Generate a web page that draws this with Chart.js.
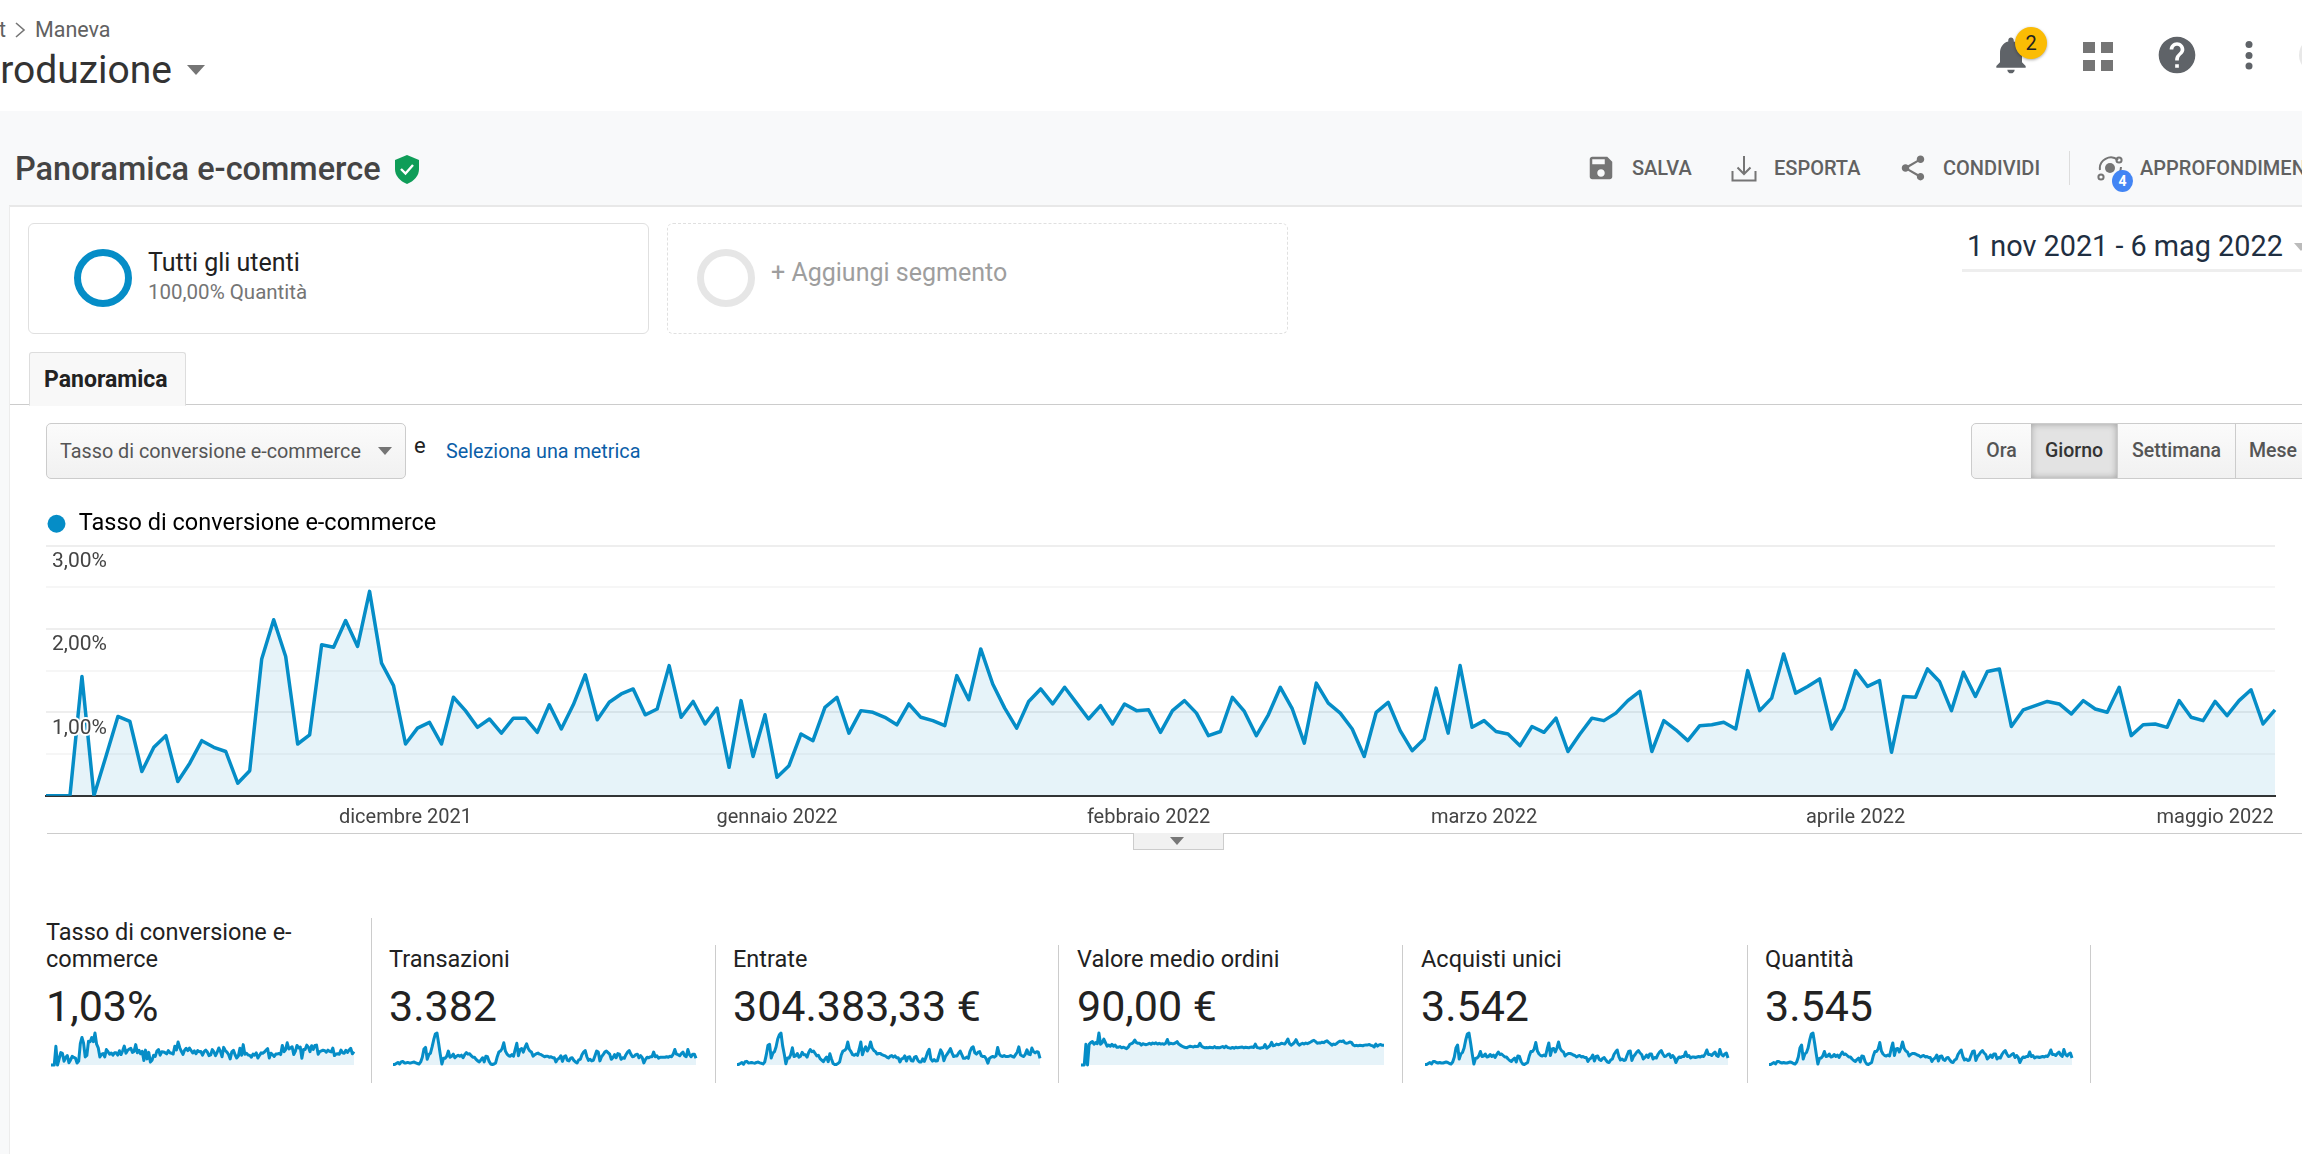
<!DOCTYPE html>
<html lang="it">
<head>
<meta charset="utf-8">
<title>Panoramica e-commerce</title>
<script src="https://cdn.jsdelivr.net/npm/chart.js@4"></script>
<style>
  html, body { margin: 0; padding: 0; background: #fff; }
  body { position: relative; width: 2302px; height: 1154px; overflow: hidden; font-family: Roboto, sans-serif; }
  .abs { position: absolute; white-space: nowrap; }
  canvas { position: absolute; display: block; }
  .tool { font-size: 20px; font-weight: 500; color: #616161; line-height: 24px; top: 156px; }
  .metric-name { font-size: 23.5px; color: #212121; line-height: 27px; }
  .metric-value { font-size: 43px; color: #222; line-height: 48px; top: 982px; }
  .sep { position: absolute; width: 1px; background: #ccc; top: 945px; height: 138px; }
  .tri { position: absolute; width: 0; height: 0; border-left: 7px solid transparent; border-right: 7px solid transparent; border-top: 8px solid #757575; }
  .btn { position: absolute; top: 423px; height: 54px; line-height: 54px; text-align: center; font-size: 19.5px; font-weight: 500; color: #555; background: linear-gradient(#fbfbfb, #f1f1f1); border: 1px solid #ccc; border-left: 0; box-sizing: content-box; }
</style>
</head>
<body>

<!-- header -->
<div class="abs" style="left:-1px;top:18px;font-size:21.5px;color:#616161;line-height:24px">t</div>
<svg class="abs" style="left:14px;top:21px" width="12" height="18" viewBox="0 0 12 18"><path d="M2 2l8 7-8 7" fill="none" stroke="#757575" stroke-width="1.6"/></svg>
<div class="abs" style="left:35px;top:18px;font-size:21.5px;color:#616161;line-height:24px">Maneva</div>
<div class="abs" style="right:2130px;top:48px;font-size:39px;color:#333;line-height:44px">roduzione</div>
<div class="tri" style="left:187px;top:65px;border-left-width:9px;border-right-width:9px;border-top-width:10px"></div>

<svg class="abs" style="left:1989px;top:33px" width="44" height="44" viewBox="0 0 24 24"><path fill="#5f6368" d="M12 22c1.1 0 2-.9 2-2h-4c0 1.1.89 2 2 2zm6-6v-5c0-3.07-1.64-5.64-4.5-6.32V4c0-.83-.67-1.5-1.5-1.5s-1.5.67-1.5 1.5v.68C7.63 5.36 6 7.92 6 11v5l-2 2v1h16v-1l-2-2z"/></svg>
<div class="abs" style="left:2015px;top:27px;width:32px;height:32px;border-radius:50%;background:#fbbc04;box-shadow:0 1px 3px rgba(0,0,0,.35);text-align:center;line-height:32px;font-size:20px;color:#222">2</div>
<svg class="abs" style="left:2083px;top:42px" width="30" height="29"><path fill="#757575" d="M0 0h12v11H0zM18 0h12v11H18zM0 18h12v11H0zM18 18h12v11H18z"/></svg>
<svg class="abs" style="left:2155px;top:33px" width="44" height="44" viewBox="0 0 24 24"><path fill="#5f6368" d="M12 2C6.48 2 2 6.48 2 12s4.48 10 10 10 10-4.48 10-10S17.52 2 12 2zm1 17h-2v-2h2v2zm2.07-7.75l-.9.92C13.45 12.9 13 13.5 13 15h-2v-.5c0-1.1.45-2.1 1.17-2.83l1.24-1.26c.37-.36.59-.86.59-1.41 0-1.1-.9-2-2-2s-2 .9-2 2H8c0-2.21 1.79-4 4-4s4 1.79 4 4c0 .88-.36 1.68-.93 2.25z"/></svg>
<svg class="abs" style="left:2244px;top:40px" width="10" height="30"><circle cx="5" cy="4.5" r="3.5" fill="#5f6368"/><circle cx="5" cy="15.5" r="3.5" fill="#5f6368"/><circle cx="5" cy="26" r="3.5" fill="#5f6368"/></svg>
<div class="abs" style="left:2299px;top:37px;width:36px;height:36px;border-radius:50%;background:#e8e8e8"></div>

<!-- toolbar -->
<div class="abs" style="left:0;top:111px;width:2302px;height:94px;background:#f8f9fa;border-bottom:2px solid #e8e8e8"></div>
<div class="abs" style="left:0;top:111px;width:9px;height:1043px;background:#f8f9fa"></div>
<div class="abs" style="left:9px;top:206px;width:1px;height:948px;background:#ececec"></div>
<div class="abs" style="left:15px;top:149px;font-size:32.5px;font-weight:500;color:#444;line-height:40px">Panoramica e-commerce</div>
<svg class="abs" style="left:394px;top:155px" width="26" height="29" viewBox="0 0 26 29"><path fill="#0f9d58" d="M13 0l12 5v9c0 7-5 12-12 15C6 26 1 21 1 14V5z"/><path d="M7 14l4.5 4.5L19 10" fill="none" stroke="#fff" stroke-width="2.4"/></svg>

<svg class="abs" style="left:1586px;top:153px" width="30" height="30" viewBox="0 0 24 24"><path fill="#757575" d="M17 3H5c-1.11 0-2 .9-2 2v14c0 1.1.89 2 2 2h14c1.1 0 2-.9 2-2V7l-4-4zm-5 16c-1.66 0-3-1.34-3-3s1.34-3 3-3 3 1.34 3 3-1.34 3-3 3zm3-10H5V5h10v4z"/></svg>
<div class="abs tool" style="left:1632px">SALVA</div>
<svg class="abs" style="left:1731px;top:156px" width="26" height="26"><path d="M1.5 15v9.5h23V15M13 0v18M6.5 11.5L13 18l6.5-6.5" fill="none" stroke="#757575" stroke-width="2"/></svg>
<div class="abs tool" style="left:1774px">ESPORTA</div>
<svg class="abs" style="left:1898px;top:153px" width="30" height="30" viewBox="0 0 24 24"><path fill="#757575" d="M18 16.08c-.76 0-1.44.3-1.96.77L8.91 12.7c.05-.23.09-.46.09-.7s-.04-.47-.09-.7l7.05-4.11c.54.5 1.25.81 2.04.81 1.66 0 3-1.34 3-3s-1.34-3-3-3-3 1.34-3 3c0 .24.04.47.09.7L8.04 9.81C7.5 9.31 6.79 9 6 9c-1.66 0-3 1.34-3 3s1.34 3 3 3c.79 0 1.5-.31 2.04-.81l7.12 4.16c-.05.21-.08.43-.08.65 0 1.61 1.31 2.92 2.92 2.92s2.92-1.31 2.92-2.92-1.31-2.92-2.92-2.92z"/></svg>
<div class="abs tool" style="left:1943px">CONDIVIDI</div>
<div class="abs" style="left:2069px;top:151px;width:1px;height:34px;background:#ddd"></div>
<svg class="abs" style="left:2096px;top:155px" width="30" height="28"><circle cx="14" cy="13" r="5" fill="#757575"/><path d="M4 15a11 11 0 0 1 18-10M25 12a11 11 0 0 1-7 10" fill="none" stroke="#757575" stroke-width="2"/><circle cx="23" cy="5" r="2.6" fill="none" stroke="#757575" stroke-width="2"/><circle cx="5" cy="22" r="2.6" fill="none" stroke="#757575" stroke-width="2"/></svg>
<div class="abs" style="left:2112px;top:170px;width:21px;height:22px;border-radius:50%;background:#4285f4;color:#fff;font-size:14px;font-weight:700;text-align:center;line-height:22px">4</div>
<div class="abs tool" style="left:2140px">APPROFONDIMENTI</div>

<!-- segments -->
<div class="abs" style="left:28px;top:223px;width:619px;height:109px;border:1px solid #e0e0e0;border-radius:6px"></div>
<div class="abs" style="left:74px;top:249px;width:44px;height:44px;border:7px solid #058dc7;border-radius:50%"></div>
<div class="abs" style="left:148px;top:250px;font-size:25px;color:#212121;line-height:26px">Tutti gli utenti</div>
<div class="abs" style="left:148px;top:281px;font-size:20.5px;color:#757575;line-height:22px">100,00% Quantità</div>
<div class="abs" style="left:667px;top:223px;width:619px;height:109px;border:1px dashed #e0e0e0;border-radius:6px"></div>
<div class="abs" style="left:697px;top:249px;width:44px;height:44px;border:7px solid #e6e6e6;border-radius:50%"></div>
<div class="abs" style="left:771px;top:259px;font-size:25px;color:#9e9e9e;line-height:28px">+ Aggiungi segmento</div>
<div class="abs" style="left:1967px;top:228px;font-size:28.8px;color:#1f2f42;line-height:36px">1 nov 2021 - 6 mag 2022</div>
<div class="tri" style="left:2294px;top:243px;border-top-color:#bbb"></div>
<div class="abs" style="left:1962px;top:269px;width:340px;height:3px;background:#eee"></div>

<!-- tab row -->
<div class="abs" style="left:10px;top:404px;width:2292px;height:1px;background:#ccc"></div>
<div class="abs" style="left:29px;top:352px;width:155px;height:52px;background:#f8f8f8;border:1px solid #ddd;border-bottom:1px solid #f8f8f8;border-radius:3px 3px 0 0"></div>
<div class="abs" style="left:44px;top:367px;font-size:23px;font-weight:700;color:#222;line-height:26px">Panoramica</div>

<!-- controls -->
<div class="abs" style="left:46px;top:423px;width:358px;height:54px;background:linear-gradient(#fbfbfb,#f1f1f1);border:1px solid #ccc;border-radius:5px"></div>
<div class="abs" style="left:60px;top:440px;font-size:19.8px;color:#555;line-height:24px">Tasso di conversione e-commerce</div>
<div class="tri" style="left:378px;top:447px"></div>
<div class="abs" style="left:414px;top:433px;font-size:22px;color:#222;line-height:26px">e</div>
<div class="abs" style="left:446px;top:440px;font-size:19.8px;color:#0b5ea8;line-height:24px">Seleziona una metrica</div>
<div class="btn" style="left:1971px;width:59px;border-left:1px solid #ccc;border-radius:5px 0 0 5px">Ora</div>
<div class="btn" style="left:2031px;width:86px;background:#e3e3e3;box-shadow:inset 0 0 7px rgba(0,0,0,.3);color:#333">Giorno</div>
<div class="btn" style="left:2118px;width:117px">Settimana</div>
<div class="btn" style="left:2236px;width:74px">Mese</div>

<!-- main chart -->
<canvas id="main-chart" width="2302" height="340" style="left:0;top:510px"></canvas>
<div class="abs" style="left:47px;top:833px;width:2255px;height:1px;background:#ccc"></div>
<div class="abs" style="left:1133px;top:833px;width:89px;height:16px;background:#f1f1f1;border:1px solid #ccc;border-top:0"></div>
<div class="tri" style="left:1170px;top:837px;border-top-color:#777"></div>

<!-- metrics -->
<div class="sep" style="left:371px;top:918px;height:165px"></div>
<div class="sep" style="left:715px"></div>
<div class="sep" style="left:1058px"></div>
<div class="sep" style="left:1402px"></div>
<div class="sep" style="left:1747px"></div>
<div class="sep" style="left:2090px"></div>

<div class="abs metric-name" style="left:46px;top:919px">Tasso di conversione e-<br>commerce</div>
<div class="abs metric-name" style="left:389px;top:946px">Transazioni</div>
<div class="abs metric-name" style="left:733px;top:946px">Entrate</div>
<div class="abs metric-name" style="left:1077px;top:946px">Valore medio ordini</div>
<div class="abs metric-name" style="left:1421px;top:946px">Acquisti unici</div>
<div class="abs metric-name" style="left:1765px;top:946px">Quantità</div>

<div class="abs metric-value" style="left:46px">1,03%</div>
<div class="abs metric-value" style="left:389px">3.382</div>
<div class="abs metric-value" style="left:733px">304.383,33 €</div>
<div class="abs metric-value" style="left:1077px">90,00 €</div>
<div class="abs metric-value" style="left:1421px">3.542</div>
<div class="abs metric-value" style="left:1765px">3.545</div>

<canvas class="spark" id="spark-conversion" width="311" height="40" style="left:47px;top:1029px"></canvas>
<canvas class="spark" id="spark-transactions" width="311" height="40" style="left:389px;top:1029px"></canvas>
<canvas class="spark" id="spark-revenue" width="311" height="40" style="left:733px;top:1029px"></canvas>
<canvas class="spark" id="spark-order-value" width="311" height="40" style="left:1077px;top:1029px"></canvas>
<canvas class="spark" id="spark-purchases" width="311" height="40" style="left:1421px;top:1029px"></canvas>
<canvas class="spark" id="spark-quantity" width="311" height="40" style="left:1765px;top:1029px"></canvas>

<script>
// Values, one per day from 1 nov 2021 to 6 mag 2022

const seriesName = 'Tasso di conversione e-commerce'

const monthLabels = {
  '2021-12-01': 'dicembre 2021',
  '2022-01-01': 'gennaio 2022',
  '2022-02-01': 'febbraio 2022',
  '2022-03-01': 'marzo 2022',
  '2022-04-01': 'aprile 2022',
  '2022-05-01': 'maggio 2022',
}

const conversionRate = [
  0, 0, 0, 1.43, 0, 0.47, 0.95, 0.89, 0.29, 0.58, 0.72, 0.17, 0.39, 0.66, 0.58, 0.53, 0.15, 0.30, 1.64, 2.11,
  1.67, 0.62, 0.73, 1.81, 1.78, 2.10, 1.79, 2.45, 1.59, 1.32, 0.62, 0.81, 0.88, 0.62, 1.18, 1.02, 0.82, 0.92, 0.75, 0.93,
  0.93, 0.76, 1.09, 0.80, 1.09, 1.45, 0.91, 1.12, 1.22, 1.28, 0.97, 1.04, 1.56, 0.94, 1.13, 0.86, 1.05, 0.34, 1.14, 0.47,
  0.97, 0.22, 0.36, 0.74, 0.66, 1.06, 1.18, 0.75, 1.02, 1.00, 0.94, 0.85, 1.10, 0.94, 0.90, 0.84, 1.44, 1.15, 1.76, 1.34,
  1.05, 0.81, 1.13, 1.28, 1.10, 1.30, 1.11, 0.92, 1.08, 0.86, 1.10, 1.02, 1.03, 0.76, 1.02, 1.14, 0.99, 0.72, 0.77, 1.18,
  1.01, 0.72, 0.97, 1.30, 1.04, 0.63, 1.35, 1.11, 0.99, 0.80, 0.47, 1.00, 1.12, 0.78, 0.54, 0.68, 1.29, 0.75, 1.56, 0.82,
  0.90, 0.77, 0.74, 0.60, 0.83, 0.76, 0.93, 0.53, 0.74, 0.93, 0.90, 0.99, 1.14, 1.25, 0.53, 0.90, 0.79, 0.66, 0.84, 0.85,
  0.88, 0.80, 1.50, 1.02, 1.17, 1.70, 1.23, 1.31, 1.40, 0.80, 1.04, 1.50, 1.31, 1.38, 0.52, 1.19, 1.18, 1.52, 1.37, 1.02,
  1.48, 1.19, 1.49, 1.52, 0.83, 1.03, 1.08, 1.13, 1.10, 0.98, 1.14, 1.04, 1.00, 1.30, 0.72, 0.85, 0.86, 0.82, 1.14, 0.94,
  0.90, 1.13, 0.96, 1.14, 1.27, 0.86, 1.03,
]

const transactions = [
  1, 1, 3, 5, 2, 6, 7, 4, 4, 5, 4, 4, 5, 6, 4, 3, 2, 6, 15, 31,
  34, 11, 20, 23, 35, 49, 60, 62, 42, 21, 2, 13, 13, 17, 27, 15, 17, 21, 14, 17,
  19, 17, 19, 14, 20, 24, 21, 22, 18, 15, 15, 11, 8, 6, 10, 14, 6, 17, 16, 7,
  2, 1, 2, 4, 16, 25, 27, 32, 43, 27, 21, 18, 17, 20, 17, 30, 42, 18, 30, 32,
  25, 34, 41, 32, 27, 25, 17, 20, 22, 23, 21, 20, 18, 16, 17, 17, 15, 16, 14, 14,
  6, 11, 13, 18, 7, 16, 18, 9, 8, 13, 14, 9, 6, 4, 10, 11, 20, 25, 28, 16,
  9, 11, 8, 9, 18, 27, 25, 8, 16, 20, 25, 27, 24, 21, 11, 14, 20, 14, 22, 21,
  11, 14, 13, 20, 25, 28, 21, 16, 17, 20, 21, 14, 18, 14, 4, 11, 15, 14, 16, 16,
  25, 16, 18, 13, 15, 15, 15, 15, 16, 15, 17, 16, 21, 30, 21, 20, 18, 22, 25, 18,
  16, 30, 20, 16, 21, 21, 13,
]

const revenue = [
  100, 100, 250, 420, 120, 540, 600, 350, 360, 420, 350, 300, 430, 480, 350, 280, 180, 480, 1700, 3250,
  3400, 1150, 1950, 2200, 3000, 4300, 5000, 5280, 3200, 1800, 200, 1150, 1150, 1700, 2850, 1400, 1500, 1900, 1300, 1450,
  2100, 1700, 1700, 1300, 2050, 2550, 2200, 2300, 1900, 1500, 1600, 1050, 800, 550, 1000, 1300, 550, 1850, 1000, 250,
  80, 100, 250, 500, 1650, 2300, 2400, 2650, 3800, 2600, 2200, 1700, 1600, 1800, 1600, 2600, 3800, 1700, 2500, 3000,
  2300, 2800, 3800, 2800, 2400, 2200, 1800, 1900, 1900, 1700, 1600, 1500, 1300, 1150, 1450, 1550, 1300, 1500, 1200, 1200,
  500, 1000, 1100, 1500, 650, 1300, 1350, 700, 650, 1300, 1400, 800, 500, 480, 1000, 600, 1250, 2100, 2600, 1000,
  650, 900, 650, 700, 1600, 2500, 2000, 700, 1400, 1800, 2200, 2700, 2000, 1400, 1500, 1500, 1950, 2300, 1700, 1100,
  1100, 1300, 1100, 2200, 2800, 3000, 2000, 1800, 2100, 2200, 1500, 1400, 1400, 1000, 300, 1100, 1300, 1400, 1300, 1500,
  2900, 1800, 1500, 1400, 1550, 1400, 1400, 1450, 1550, 1400, 1300, 1700, 2100, 3000, 1700, 1500, 1400, 1800, 2500, 1800,
  1700, 2800, 2200, 2000, 2200, 2100, 1100,
]

const orderValue = [
  0, 0, 0, 99, 0, 99, 107, 112, 99, 107, 102, 153, 99, 107, 124, 107, 90, 95, 90, 99,
  90, 95, 85, 85, 88, 82, 85, 82, 78, 85, 99, 102, 107, 119, 107, 104, 104, 95, 102, 99,
  97, 100, 104, 99, 105, 102, 106, 100, 104, 100, 102, 99, 104, 122, 100, 104, 102, 102, 106, 112,
  100, 95, 90, 86, 84, 82, 87, 90, 88, 86, 90, 88, 90, 104, 90, 85, 82, 84, 82, 85,
  84, 82, 88, 82, 84, 82, 85, 88, 83, 90, 84, 82, 80, 84, 80, 85, 82, 84, 85, 86,
  82, 85, 84, 82, 85, 86, 84, 100, 84, 82, 80, 83, 84, 98, 80, 86, 92, 108, 92, 94,
  100, 97, 99, 104, 102, 100, 110, 124, 102, 95, 100, 108, 121, 104, 95, 100, 104, 100, 105, 102,
  106, 110, 115, 118, 112, 104, 106, 105, 109, 107, 112, 116, 108, 102, 95, 100, 98, 103, 110, 114,
  112, 116, 106, 104, 106, 110, 108, 96, 92, 94, 92, 94, 93, 92, 95, 96, 96, 98, 94, 92,
  86, 100, 90, 96, 98, 94, 94,
]

const purchases = [
  1, 1, 3, 5, 2, 7, 7, 5, 4, 5, 4, 4, 5, 6, 5, 3, 2, 6, 16, 34,
  40, 12, 22, 25, 34, 50, 62, 64, 44, 22, 2, 13, 14, 18, 27, 17, 18, 22, 16, 17,
  21, 17, 20, 15, 21, 26, 21, 22, 19, 16, 16, 12, 9, 7, 11, 14, 6, 18, 17, 7,
  2, 1, 3, 5, 18, 27, 27, 32, 45, 28, 22, 19, 18, 20, 18, 32, 44, 19, 32, 33,
  26, 34, 46, 33, 28, 26, 18, 21, 23, 23, 22, 20, 19, 16, 18, 19, 16, 17, 15, 15,
  7, 12, 14, 20, 8, 17, 18, 11, 9, 13, 15, 10, 6, 5, 10, 12, 21, 26, 30, 17,
  10, 12, 9, 10, 19, 27, 28, 9, 17, 21, 26, 29, 24, 21, 12, 15, 20, 15, 22, 22,
  12, 15, 14, 21, 26, 29, 22, 17, 18, 21, 22, 15, 19, 15, 5, 12, 16, 15, 17, 17,
  26, 17, 19, 14, 16, 16, 15, 16, 17, 16, 18, 17, 22, 30, 21, 21, 19, 23, 26, 19,
  17, 31, 21, 18, 22, 24, 14,
]

const quantity = [
  1, 1, 3, 5, 2, 7, 7, 5, 4, 5, 4, 4, 5, 6, 5, 3, 2, 6, 16, 34,
  40, 12, 22, 25, 34, 50, 62, 64, 44, 22, 2, 13, 14, 18, 27, 17, 18, 22, 16, 17,
  21, 17, 20, 15, 21, 26, 21, 22, 19, 16, 16, 12, 9, 7, 11, 14, 6, 18, 17, 7,
  2, 1, 3, 5, 18, 27, 27, 32, 45, 28, 22, 19, 18, 20, 18, 32, 44, 19, 32, 33,
  26, 34, 46, 33, 28, 26, 18, 21, 23, 23, 22, 20, 19, 16, 18, 19, 16, 17, 15, 15,
  7, 12, 14, 20, 8, 17, 18, 11, 9, 14, 15, 10, 6, 5, 10, 12, 21, 26, 30, 17,
  10, 12, 9, 10, 19, 27, 28, 9, 17, 21, 26, 29, 24, 21, 12, 15, 20, 15, 22, 22,
  12, 15, 14, 21, 26, 29, 22, 17, 18, 21, 23, 15, 19, 15, 5, 12, 16, 15, 17, 17,
  26, 17, 19, 14, 16, 16, 15, 16, 17, 16, 18, 17, 22, 30, 21, 21, 19, 23, 26, 20,
  17, 31, 21, 18, 22, 24, 14,
]

// one category per day
const days = []
for (let d = new Date(Date.UTC(2021, 10, 1)); d <= new Date(Date.UTC(2022, 4, 6)); d.setUTCDate(d.getUTCDate() + 1)) {
  days.push(d.toISOString().slice(0, 10))
}

const lineColor = '#058dc7'
const fillColor = 'rgba(5, 141, 199, 0.1)'

// Creating the main chart
new Chart(document.getElementById('main-chart'), {
  type: 'line',
  data: {
    labels: days,
    datasets: [{
      label: seriesName,
      data: conversionRate,
      borderColor: lineColor,
      backgroundColor: lineColor,
      borderWidth: 3.5,
      borderJoinStyle: 'round',
      pointRadius: 0,
      tension: 0,
      fill: { target: 'origin', above: fillColor },
    }],
  },
  options: {
    responsive: false,
    animation: false,
    layout: { padding: { left: 46, right: 27, top: 2 } },
    plugins: {
      tooltip: { enabled: false },
      legend: {
        align: 'start',
        labels: {
          usePointStyle: true,
          pointStyle: 'circle',
          boxWidth: 21,
          boxHeight: 12.7,
          padding: 0,
          color: '#000',
          font: { family: 'Roboto', size: 23.5 },
          generateLabels: () => [{ text: seriesName, fillStyle: lineColor, strokeStyle: lineColor, lineWidth: 0, pointStyle: 'circle', fontColor: '#000' }],
        },
      },
    },
    scales: {
      x: {
        grid: { display: false },
        border: { color: '#333', width: 2 },
        afterFit: (scale) => { scale.height = 54.3 },
        ticks: {
          autoSkip: false,
          maxRotation: 0,
          minRotation: 0,
          padding: 2,
          color: '#444',
          font: { family: 'Roboto', size: 20 },
          callback: (value, index) => monthLabels[days[index]] || '',
        },
      },
      y: {
        min: 0,
        max: 3,
        border: { display: false },
        afterFit: (scale) => { scale.width = 0 },
        grid: {
          drawTicks: false,
          lineWidth: 2,
          color: (context) => context.tick.value % 1 === 0 ? '#eeeeee' : '#f6f6f6',
        },
        ticks: {
          stepSize: 0.5,
          mirror: true,
          padding: 6,
          labelOffset: 16,
          z: 1,
          color: '#444',
          textStrokeColor: '#fff',
          textStrokeWidth: 4,
          font: { family: 'Roboto', size: 21 },
          callback: (value) => value > 0 && value % 1 === 0 ? value.toFixed(2).replace('.', ',') + '%' : '',
        },
      },
    },
  },
})

// Creating the small charts
const drawSpark = (id, values) => {
  new Chart(document.getElementById(id), {
    type: 'line',
    data: {
      labels: days,
      datasets: [{
        data: values,
        borderColor: lineColor,
        borderWidth: 3,
        borderJoinStyle: 'round',
        pointRadius: 0,
        tension: 0,
        clip: false,
        fill: { target: 'origin', above: fillColor },
      }],
    },
    options: {
      responsive: false,
      animation: false,
      layout: { padding: { left: 4, right: 4, top: 4, bottom: 4 } },
      plugins: { legend: { display: false }, tooltip: { enabled: false } },
      scales: {
        x: { display: false },
        y: { display: false, min: 0, max: Math.max(...values) },
      },
    },
  })
}

drawSpark('spark-conversion', conversionRate)
drawSpark('spark-transactions', transactions)
drawSpark('spark-revenue', revenue)
drawSpark('spark-order-value', orderValue)
drawSpark('spark-purchases', purchases)
drawSpark('spark-quantity', quantity)
</script>
</body>
</html>
